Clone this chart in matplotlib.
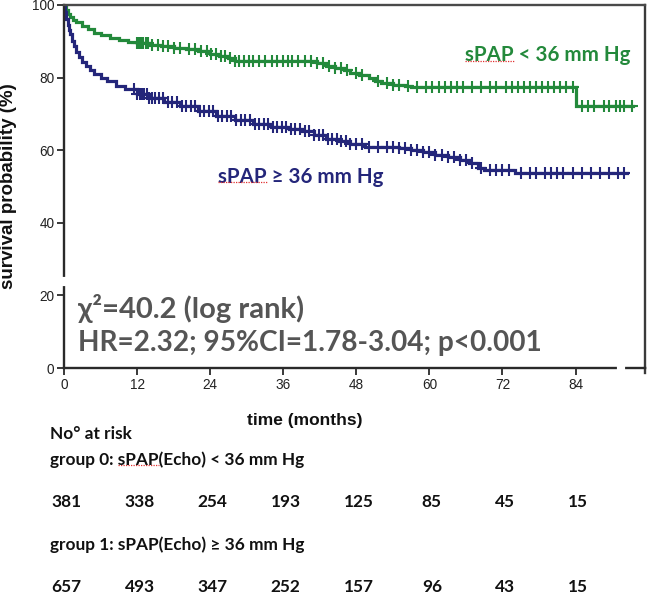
import numpy as np
import matplotlib
matplotlib.use("Agg")
import matplotlib.pyplot as plt
from matplotlib.transforms import blended_transform_factory

# ---------------- data ----------------
months_ticks = [0, 12, 24, 36, 48, 60, 72, 84]
y_ticks = [0, 20, 40, 60, 80, 100]

# group 0: sPAP < 36 mm Hg (green)
green_t = [0, 0.3, 0.6, 1.0, 1.5, 2.0, 3.0, 4.0, 5.0, 6.0, 7.5, 9.0, 10.5, 12.0, 14.0,
           16.0, 18.0, 20.0, 22.0, 24.0, 25.5, 27.0, 28.0, 40.0, 41.5, 43.0, 44.5, 46.0,
           47.0, 48.5, 50.0, 51.0, 52.0, 54.0, 56.0, 57.0, 84.0, 93.5]
green_s = [100, 98.5, 97.5, 96.8, 96.0, 95.3, 94.3, 93.3, 92.4, 91.6, 90.9, 90.3, 89.8, 89.4, 89.0,
           88.6, 88.2, 87.8, 87.3, 86.6, 86.0, 85.3, 84.7, 84.7, 84.0, 83.3, 82.6, 82.0,
           81.3, 80.6, 79.8, 79.0, 78.5, 78.0, 77.7, 77.5, 72.3, 72.3]
green_censor = [12.0, 12.3, 12.6, 13.0, 13.4, 13.8, 14.5, 15.5, 16.2, 17.0, 18.0, 19.0, 20.5,
                21.5, 22.5, 23.5, 24.2, 25.0, 25.8, 26.5, 27.3, 28.0, 28.8, 29.5, 30.3, 31.0,
                32.0, 33.0, 34.2, 35.0, 36.0, 36.8, 37.5, 38.5, 39.5, 40.5, 41.5, 42.5, 43.5,
                44.5, 45.5, 46.5, 48.0, 49.0, 51.5, 53.0, 54.0, 55.0, 56.5, 58.0, 59.5, 60.5,
                61.5, 62.5, 63.5, 64.5, 65.5, 67.0, 68.5, 70.0, 71.0, 72.5, 73.5, 74.5, 75.5,
                76.5, 77.5, 78.5, 79.5, 80.5, 81.5, 82.5, 83.5, 85.0, 86.0, 87.0, 88.6, 89.5,
                90.6, 91.3, 92.0, 93.2]

# group 1: sPAP >= 36 mm Hg (navy)
blue_t = [0, 0.2, 0.4, 0.6, 0.8, 1.0, 1.3, 1.6, 2.0, 2.5, 3.0, 3.6, 4.3, 5.0, 6.0, 7.0, 8.5,
          10.0, 12.0, 14.0, 16.5, 19.0, 22.0, 25.0, 28.0, 31.0, 34.0, 37.0, 39.0, 41.0, 43.0,
          45.0, 47.0, 49.5, 52.0, 55.0, 57.0, 59.0, 61.0, 63.0, 65.0, 66.5, 68.0, 69.0, 74.0, 92.5]
blue_s = [100, 98.0, 96.2, 94.6, 93.2, 92.0, 90.2, 88.6, 87.0, 85.6, 84.4, 83.2, 82.0, 81.0,
          80.0, 79.0, 77.8, 76.8, 75.5, 74.4, 73.2, 72.2, 70.8, 69.5, 68.2, 67.3, 66.5, 65.8,
          65.2, 64.3, 63.2, 62.4, 61.7, 61.0, 60.8, 60.6, 60.0, 59.4, 58.8, 58.0, 57.2, 56.5,
          55.2, 54.5, 53.6, 53.6]
blue_censor = [11.5, 12.0, 12.4, 12.8, 13.2, 13.6, 14.0, 14.5, 15.0, 15.6, 16.3, 17.0, 17.8,
               18.5, 19.3, 20.0, 20.8, 21.5, 22.3, 23.0, 23.8, 24.5, 25.3, 26.0, 26.8, 27.5,
               28.3, 29.0, 29.8, 30.5, 31.3, 32.0, 32.8, 33.5, 34.3, 35.0, 35.8, 36.5, 37.3,
               38.0, 38.8, 39.5, 40.3, 41.0, 41.8, 42.5, 43.3, 44.0, 44.8, 45.5, 46.3, 47.0,
               48.0, 49.0, 50.0, 51.5, 53.0, 54.0, 55.0, 56.0, 57.0, 58.0, 59.0, 60.0, 61.0,
               62.0, 63.0, 64.0, 65.0, 66.0, 67.0, 68.5, 70.0, 71.0, 72.0, 73.0, 75.0, 76.5,
               77.5, 79.0, 80.0, 81.0, 82.0, 83.5, 85.0, 86.5, 88.0, 89.5, 91.0, 92.0]

risk_group0 = [381, 338, 254, 193, 125, 85, 45, 15]
risk_group1 = [657, 493, 347, 252, 157, 96, 43, 15]

label_g0 = "sPAP < 36 mm Hg"
label_g1 = "sPAP \u2265 36 mm Hg"
stat_line1 = "\u03c7\u00b2=40.2 (log rank)"
stat_line2 = "HR=2.32; 95%CI=1.78-3.04; p<0.001"
risk_title = "No\u00b0 at risk"
risk_label0 = "group 0: sPAP(Echo) < 36 mm Hg"
risk_label1 = "group 1: sPAP(Echo) \u2265 36 mm Hg"

# ---------------- styling ----------------
GREEN = "#23893b"
NAVY = "#24267a"
GRAY = "#555555"
FRAME = "#2a2a2a"
CAL = ["Lato", "DejaVu Sans"]
ARIAL = ["Liberation Sans", "DejaVu Sans"]

W, H = 650, 594
fig = plt.figure(figsize=(W / 100, H / 100), dpi=100)
ax = fig.add_axes([64 / W, 1 - 368 / H, (645 - 64) / W, (368 - 5) / H])
ax.set_xlim(0, 95.4)
ax.set_ylim(0, 100)


def surv_at(t, s, c):
    t = np.asarray(t); s = np.asarray(s)
    idx = np.searchsorted(t, np.asarray(c), side="right") - 1
    return s[idx]


for t, s, c, col in [(green_t, green_s, green_censor, GREEN),
                     (blue_t, blue_s, blue_censor, NAVY)]:
    ax.plot(t, s, drawstyle="steps-post", color=col, lw=2.3, solid_joinstyle="miter")
    ax.plot(c, surv_at(t, s, c), linestyle="none", marker="+", ms=8.5, mew=1.5, color=col)

# axes styling
for sp in ax.spines.values():
    sp.set_visible(True)
    sp.set_linewidth(1.7)
    sp.set_color(FRAME)
ax.spines["top"].set_color("#4a4a4a")
ax.spines["right"].set_color("#3a3a3a")
# right spine continues slightly below the x axis
ax.plot([1, 1], [0, -0.014], color="#3a3a3a", lw=1.7, clip_on=False, transform=ax.transAxes)

ax.set_xticks(months_ticks)
ax.set_yticks(y_ticks)
ax.tick_params(direction="out", length=5, width=1.3, color=FRAME,
               labelsize=9.8, labelcolor="#222222", pad=2)
for lab in ax.get_xticklabels() + ax.get_yticklabels():
    lab.set_family(ARIAL)

# small breaks in the axes
ax.plot([0, 0], [23.2, 24.6], color="white", lw=3, clip_on=False, zorder=5,
        transform=blended_transform_factory(ax.transAxes, ax.transData))
ax.plot([91.1, 91.8], [0, 0], color="white", lw=3, clip_on=False, zorder=5,
        transform=blended_transform_factory(ax.transData, ax.transAxes))

# curve labels
t_g0 = ax.text(93.0, 86.2, label_g0, color=GREEN, family=CAL, fontweight="bold",
               fontsize=14.8, ha="right", va="center")
t_g1 = ax.text(25.3, 52.7, label_g1, color=NAVY, family=CAL, fontweight="bold",
               fontsize=14.8, ha="left", va="center")

# statistics
ax.text(2.3, 16.4, stat_line1, color=GRAY, family=CAL, fontweight="bold",
        fontsize=21, ha="left", va="center")
ax.text(2.3, 6.8, stat_line2, color=GRAY, family=CAL, fontweight="bold",
        fontsize=20.2, ha="left", va="center")

# axis labels
fig.text(9 / W, 1 - 186 / H, "survival probability (%)", rotation=90, family=ARIAL,
         fontweight="bold", fontsize=13.5, ha="center", va="center", color="#111111")
fig.text(305 / W, 1 - 420 / H, "time (months)", family=ARIAL, fontweight="bold",
         fontsize=12.5, ha="center", va="center", color="#111111")

# numbers at risk
RFS = 12.4
fig.text(50 / W, 1 - 434 / H, risk_title, family=CAL, fontweight="bold",
         fontsize=RFS, ha="left", va="center", color="#111111")
t_r0 = fig.text(50 / W, 1 - 460 / H, risk_label0, family=CAL, fontweight="bold",
                fontsize=RFS, ha="left", va="center", color="#111111")
fig.text(50 / W, 1 - 545 / H, risk_label1, family=CAL, fontweight="bold",
         fontsize=RFS, ha="left", va="center", color="#111111")
tr = blended_transform_factory(ax.transData, fig.transFigure)
for m, n0, n1 in zip(months_ticks, risk_group0, risk_group1):
    fig.text(m + 0.4, 1 - 502 / H, str(n0), transform=tr, family=CAL, fontweight="bold",
             fontsize=RFS, ha="center", va="center", color="#111111")
    fig.text(m + 0.4, 1 - 587 / H, str(n1), transform=tr, family=CAL, fontweight="bold",
             fontsize=RFS, ha="center", va="center", color="#111111")

# red spell-check squiggles under "sPAP"
fig.canvas.draw()
renderer = fig.canvas.get_renderer()
inv = fig.transFigure.inverted()


def squiggle_under(txt, prefix):
    bb = txt.get_window_extent(renderer)
    fp = txt.get_fontproperties()
    probe_w = 0.0
    if prefix:
        probe = fig.text(0, 0, prefix, fontproperties=fp)
        probe_w = probe.get_window_extent(renderer).width
        probe.remove()
    probe2 = fig.text(0, 0, prefix + "sPAP", fontproperties=fp)
    w2 = probe2.get_window_extent(renderer).width
    probe2.remove()
    x0 = bb.x0 + probe_w
    x1 = bb.x0 + w2
    yb = bb.y0 + 0.22 * bb.height
    (fx0, fy), (fx1, _) = inv.transform([(x0, yb), (x1, yb)])
    fig.add_artist(plt.Line2D([fx0, fx1], [fy, fy], color="#e03030", lw=0.9,
                              linestyle=(0, (1, 1)), transform=fig.transFigure))


squiggle_under(t_g0, "")
squiggle_under(t_g1, "")
squiggle_under(t_r0, "group 0: ")

fig.savefig("out.png", dpi=100)
